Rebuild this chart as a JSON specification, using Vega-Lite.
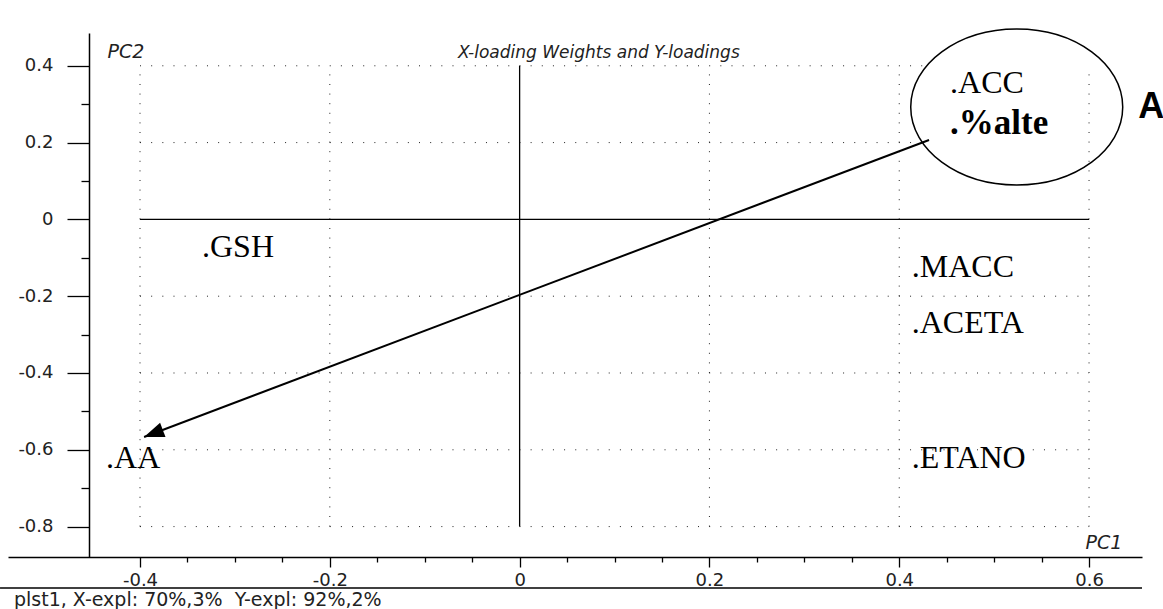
{
  "$schema": "https://vega.github.io/schema/vega-lite/v6.json",
  "width": 1134,
  "height": 524,
  "autosize": "none",
  "padding": {"left": 8, "top": 33, "right": 21, "bottom": 52},
  "background": "white",
  "title": {
    "text": "X-loading Weights and Y-loadings",
    "anchor": "start",
    "frame": "group",
    "dx": 450,
    "offset": -49,
    "baseline": "alphabetic",
    "font": "DejaVu Sans",
    "fontSize": 17,
    "fontStyle": "italic",
    "fontWeight": "normal",
    "color": "#222"
  },
  "datasets": {
    "loadings": [
      {"label": ".GSH", "block": "X", "PC1": -0.3347, "PC2": -0.0979},
      {"label": ".AA", "block": "X", "PC1": -0.4358, "PC2": -0.6474},
      {"label": ".MACC", "block": "X", "PC1": 0.4132, "PC2": -0.1492},
      {"label": ".ACETA", "block": "X", "PC1": 0.4132, "PC2": -0.2966},
      {"label": ".ETANO", "block": "X", "PC1": 0.4132, "PC2": -0.6482},
      {"label": ".ACC", "block": "X", "PC1": 0.4536, "PC2": 0.3284},
      {"label": ".%alte", "block": "Y", "PC1": 0.4536, "PC2": 0.2224}
    ],
    "gridX": [{"at": -0.4}, {"at": -0.2}, {"at": 0.2}, {"at": 0.4}, {"at": 0.6}],
    "gridY": [{"at": 0.4}, {"at": 0.2}, {"at": -0.2}, {"at": -0.4}, {"at": -0.6}, {"at": -0.8}],
    "highlight": [{"PC1": 0.5238, "PC2": 0.2927}],
    "arrow": [{"PC1": 0.4314, "PC2": 0.2068, "PC1_end": -0.3957, "PC2_end": -0.5667}]
  },
  "layer": [
    {
      "data": {"name": "gridY"},
      "mark": {"type": "rule", "stroke": "#222", "strokeWidth": 1, "strokeDash": [1, 10.16]},
      "encoding": {
        "y": {"field": "at", "type": "quantitative"},
        "x": {"datum": -0.4},
        "x2": {"datum": 0.6}
      }
    },
    {
      "data": {"name": "highlight"},
      "mark": {
        "type": "point",
        "shape": "M-1,0A1,0.736,0,1,1,1,0A1,0.736,0,1,1,-1,0Z",
        "size": 44944,
        "filled": true,
        "fill": "white",
        "stroke": "black",
        "strokeWidth": 1.5,
        "opacity": 1
      },
      "encoding": {
        "x": {"field": "PC1", "type": "quantitative"},
        "y": {"field": "PC2", "type": "quantitative"}
      }
    },
    {
      "data": {"name": "gridX"},
      "mark": {"type": "rule", "stroke": "#222", "strokeWidth": 1, "strokeDash": [1, 8.6]},
      "encoding": {
        "x": {"field": "at", "type": "quantitative"},
        "y": {"datum": -0.8},
        "y2": {"datum": 0.4}
      }
    },
    {
      "data": {"values": [{}]},
      "mark": {"type": "rule", "stroke": "black", "strokeWidth": 1.3},
      "encoding": {
        "x": {"datum": 0},
        "y": {"datum": -0.8},
        "y2": {"datum": 0.4}
      }
    },
    {
      "data": {"values": [{}]},
      "mark": {"type": "rule", "stroke": "black", "strokeWidth": 1.3},
      "encoding": {
        "y": {"datum": 0},
        "x": {"datum": -0.4},
        "x2": {"datum": 0.6}
      }
    },
    {
      "data": {"name": "arrow"},
      "mark": {"type": "rule", "stroke": "black", "strokeWidth": 2},
      "encoding": {
        "x": {"field": "PC1", "type": "quantitative"},
        "y": {"field": "PC2", "type": "quantitative"},
        "x2": {"field": "PC1_end"},
        "y2": {"field": "PC2_end"}
      }
    },
    {
      "data": {"name": "arrow"},
      "mark": {
        "type": "point",
        "shape": "M0,0L-0.76,2L0.76,2Z",
        "size": 400,
        "angle": 249.3,
        "filled": true,
        "fill": "black",
        "stroke": null,
        "opacity": 1
      },
      "encoding": {
        "x": {"field": "PC1_end", "type": "quantitative"},
        "y": {"field": "PC2_end", "type": "quantitative"}
      }
    },
    {
      "data": {"name": "loadings"},
      "transform": [{"filter": "datum.block === 'X'"}],
      "mark": {
        "type": "text",
        "align": "left",
        "baseline": "alphabetic",
        "font": "Liberation Serif",
        "fontSize": 32,
        "color": "black"
      },
      "encoding": {
        "x": {
          "field": "PC1",
          "type": "quantitative",
          "scale": {"domain": [-0.5391, 0.6558], "nice": false, "zero": false},
          "axis": {
            "orient": "bottom",
            "values": [-0.4, -0.35, -0.3, -0.25, -0.2, -0.15, -0.1, -0.05, 0, 0.05, 0.1, 0.15, 0.2, 0.25, 0.3, 0.35, 0.4, 0.45, 0.5, 0.55, 0.6],
            "tickSize": {"condition": {"test": "abs(datum.value * 5 - round(datum.value * 5)) < 0.001", "value": 10}, "value": 5},
            "labelExpr": "abs(datum.value * 5 - round(datum.value * 5)) < 0.001 ? '' + round(datum.value * 10) / 10 : ''",
            "labelPadding": 4,
            "labelFont": "DejaVu Sans",
            "labelFontSize": 18,
            "labelColor": "#222",
            "labelFlush": false,
            "labelOverlap": false,
            "labelBound": false,
            "grid": false,
            "domainColor": "black",
            "domainWidth": 1.5,
            "tickColor": "black",
            "tickWidth": 1.3,
            "title": "PC1",
            "titleX": 1077,
            "titleY": -9,
            "titleAlign": "left",
            "titleAnchor": "start",
            "titleBaseline": "alphabetic",
            "titleFont": "DejaVu Sans",
            "titleFontSize": 19,
            "titleFontStyle": "italic",
            "titleFontWeight": "normal",
            "titleColor": "#222"
          }
        },
        "y": {
          "field": "PC2",
          "type": "quantitative",
          "scale": {"domain": [-0.8792, 0.4854], "nice": false, "zero": false},
          "axis": {
            "orient": "left",
            "offset": -81,
            "values": [-0.8, -0.75, -0.7, -0.65, -0.6, -0.55, -0.5, -0.45, -0.4, -0.35, -0.3, -0.25, -0.2, -0.15, -0.1, -0.05, 0, 0.05, 0.1, 0.15, 0.2, 0.25, 0.3, 0.35, 0.4],
            "tickSize": {"condition": {"test": "abs(datum.value * 5 - round(datum.value * 5)) < 0.001", "value": 22}, "value": 8},
            "labelExpr": "abs(datum.value * 5 - round(datum.value * 5)) < 0.001 ? '' + round(datum.value * 10) / 10 : ''",
            "labelPadding": 14,
            "labelFont": "DejaVu Sans",
            "labelFontSize": 18,
            "labelColor": "#222",
            "labelFlush": false,
            "labelOverlap": false,
            "labelBound": false,
            "grid": false,
            "domainColor": "black",
            "domainWidth": 1.5,
            "tickColor": "black",
            "tickWidth": 1.3,
            "title": "PC2",
            "titleAngle": 0,
            "titleX": 18,
            "titleY": 24,
            "titleAlign": "left",
            "titleAnchor": "start",
            "titleBaseline": "alphabetic",
            "titleFont": "DejaVu Sans",
            "titleFontSize": 19,
            "titleFontStyle": "italic",
            "titleFontWeight": "normal",
            "titleColor": "#222"
          }
        },
        "text": {"field": "label"}
      }
    },
    {
      "data": {"name": "loadings"},
      "transform": [{"filter": "datum.block === 'Y'"}],
      "mark": {
        "type": "text",
        "align": "left",
        "baseline": "alphabetic",
        "font": "Liberation Serif",
        "fontSize": 35,
        "fontWeight": "bold",
        "color": "black"
      },
      "encoding": {
        "x": {"field": "PC1", "type": "quantitative"},
        "y": {"field": "PC2", "type": "quantitative"},
        "text": {"field": "label"}
      }
    },
    {
      "data": {"values": [{}]},
      "mark": {
        "type": "text",
        "align": "left",
        "baseline": "alphabetic",
        "font": "Liberation Sans",
        "fontSize": 36,
        "fontWeight": "bold",
        "color": "black"
      },
      "encoding": {
        "x": {"datum": 0.6518},
        "y": {"datum": 0.2641},
        "text": {"value": "A"}
      }
    },
    {
      "data": {"values": [{}]},
      "mark": {"type": "rule", "stroke": "black", "strokeWidth": 1.5},
      "encoding": {
        "y": {"datum": -0.9599},
        "x": {"datum": -0.5475},
        "x2": {"datum": 0.6558}
      }
    },
    {
      "data": {"values": [{}]},
      "mark": {
        "type": "text",
        "align": "left",
        "baseline": "alphabetic",
        "font": "DejaVu Sans",
        "fontSize": 19,
        "color": "#222"
      },
      "encoding": {
        "x": {"datum": -0.5328},
        "y": {"datum": -1.0068},
        "text": {"value": "plst1, X-expl: 70%,3%\u00a0 Y-expl: 92%,2%"}
      }
    }
  ],
  "config": {
    "view": {"stroke": null}
  }
}
